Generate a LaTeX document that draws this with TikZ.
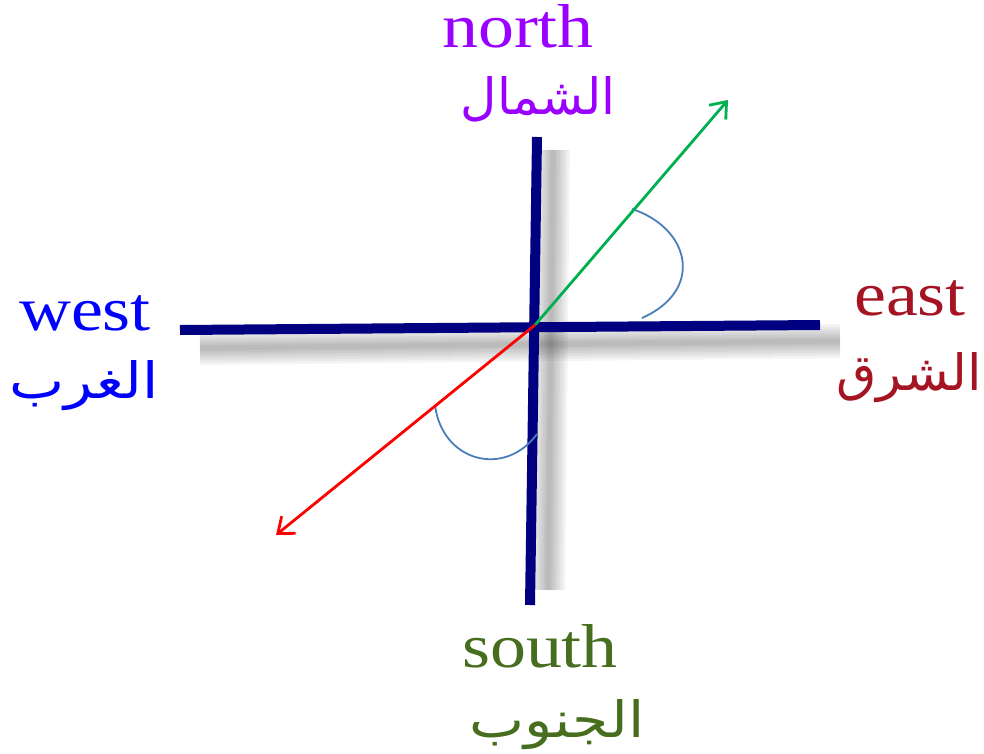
\documentclass[tikz,border=0pt]{standalone}
\usepackage{fontspec}
\usepackage{graphicx}
\setmainfont{Liberation Serif}
\newfontfamily\arabicfont[Script=Arabic]{DejaVu Sans}
\TeXXeTstate=1
\usetikzlibrary{arrows.meta}
\definecolor{navyline}{RGB}{0,0,128}
\definecolor{northcol}{RGB}{153,0,255}
\definecolor{eastcol}{RGB}{165,20,35}
\definecolor{westcol}{RGB}{0,0,255}
\definecolor{southcol}{RGB}{70,110,30}
\definecolor{greenarrow}{RGB}{0,176,80}
\definecolor{redarrow}{RGB}{255,0,0}
\definecolor{arccol}{RGB}{74,126,187}
\tikzset{
  axisline/.style={draw=navyline, line width=10pt},
  shadowline/.style={draw=black, opacity=0.045},
  dirarrow/.style={line width=2.8pt, -{Straight Barb[length=14pt,width=22pt]}},
  anglearc/.style={draw=arccol, line width=1.8pt},
  latinlabel/.style={inner sep=0pt, anchor=base, font=\fontsize{62}{70}\selectfont},
  arablabel/.style={inner sep=0pt, anchor=base, font=\fontsize{50}{58}\arabicfont},
}
\begin{document}
\begin{tikzpicture}[x=1pt,y=-1pt]
\useasboundingbox (0,0) rectangle (984,754);
% coordinates
\coordinate (C) at (535,325);
\coordinate (Ntop) at (537,137);
\coordinate (Sbot) at (530,605);
\coordinate (Wend) at (180,330);
\coordinate (Eend) at (820,325);
\coordinate (Gtip) at (728,100);
\coordinate (Rtip) at (276,535);
\coordinate (VS1) at (553,150);
\coordinate (VS2) at (548,590);
\coordinate (HS1) at (200,348);
\coordinate (HS2) at (840,341);
% shadows
\foreach \w in {34,29,24,19,14,9,5} {
  \draw[shadowline, line width=\w pt] (VS1) -- (VS2);
  \draw[shadowline, line width=\w pt] (HS1) -- (HS2);
}
% axes
\draw[axisline] (Wend) -- (Eend);
\draw[axisline] (Ntop) -- (Sbot);
% angle arcs
\coordinate (A1s) at (632,209);
\coordinate (A1e) at (642,318);
\coordinate (A2s) at (435,405);
\coordinate (A2e) at (537,434);
\draw[anglearc] (A1s) .. controls (690,228) and (705,290) .. (A1e);
\draw[anglearc] (A2s) .. controls (442,462) and (505,478) .. (A2e);
% arrows
\draw[dirarrow, draw=greenarrow] (C) -- (Gtip);
\draw[dirarrow, draw=redarrow] (C) -- (Rtip);
% labels
\node[latinlabel, text=northcol] (north) at (518,48) {\scalebox{1.16}[1]{north}};
\node[arablabel, text=northcol] (northA) at (538,115) {\scalebox{1.0}[1]{\beginR الشمال\endR}};
\node[latinlabel, text=eastcol] (east) at (910,315) {\scalebox{1.16}[1]{east}};
\node[arablabel, text=eastcol] (eastA) at (909,390) {\scalebox{1.04}[1]{\beginR الشرق\endR}};
\node[latinlabel, text=westcol] (west) at (85,330) {\scalebox{1.16}[1]{west}};
\node[arablabel, text=westcol] (westA) at (84,398) {\scalebox{1.17}[1]{\beginR الغرب\endR}};
\node[latinlabel, text=southcol] (south) at (540,667) {\scalebox{1.16}[1]{south}};
\node[arablabel, text=southcol] (southA) at (557,737) {\scalebox{1.17}[1]{\beginR الجنوب\endR}};
\end{tikzpicture}
\end{document}
